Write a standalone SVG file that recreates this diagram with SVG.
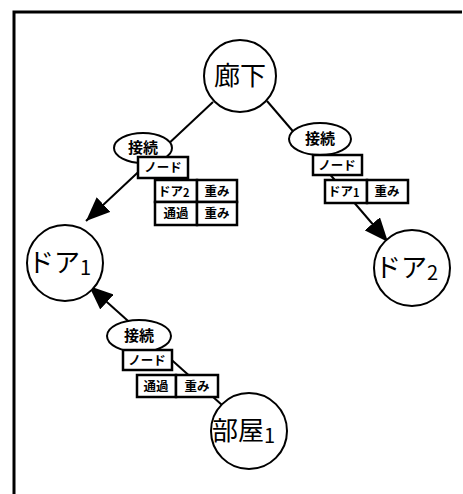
<svg xmlns="http://www.w3.org/2000/svg" width="463" height="494" viewBox="0 0 463 494">
<style>
.n{fill:#fff;stroke:#000;stroke-width:2}
.t{font-family:"Noto Sans CJK JP",sans-serif;fill:#000}
.big{font-size:26px}
.sub{font-size:20px}
.e{font-size:15px;font-weight:bold}
.b{fill:#fff;stroke:#000;stroke-width:2.5}
.c{font-size:12.5px;font-weight:bold}
.ln{stroke:#000;stroke-width:2;fill:none}
</style>
<defs>
<marker id="a" viewBox="0 0 24 20" refX="24" refY="10" markerWidth="24" markerHeight="20" markerUnits="userSpaceOnUse" orient="auto">
<path d="M0,0 L24,10 L0,20 z" fill="#000"/>
</marker>
</defs>
<g id="frame">
<path d="M14,494 L14,12 L462,12" stroke="#000" stroke-width="3" fill="none"/>
</g>
<g id="connectors">
<line class="ln" x1="213" y1="102" x2="86" y2="221" marker-end="url(#a)"/>
<line class="ln" x1="267" y1="101" x2="388" y2="242" marker-end="url(#a)"/>
<line class="ln" x1="222" y1="405" x2="89" y2="286" marker-end="url(#a)"/>
</g>
<g id="n-rouka">
<circle class="n" cx="240" cy="76" r="36"/>
<text class="t big" x="240" y="85" text-anchor="middle">廊下</text>
</g>
<g id="n-door1">
<circle class="n" cx="65" cy="263" r="38"/>
<text class="t big" x="28" y="272">ドア<tspan class="sub" dy="3">1</tspan></text>
</g>
<g id="n-door2">
<circle class="n" cx="412" cy="268" r="38"/>
<text class="t big" x="375" y="277">ドア<tspan class="sub" dy="3">2</tspan></text>
</g>
<g id="n-heya1">
<circle class="n" cx="249" cy="431" r="38"/>
<text class="t big" x="212" y="440">部屋<tspan class="sub" dy="3">1</tspan></text>
</g>
<g id="edge1">
<ellipse class="n" cx="143" cy="148" rx="29" ry="15"/>
<text class="t e" x="143" y="153" text-anchor="middle">接続</text>
<rect class="b" x="138" y="157" width="50" height="21"/>
<text class="t c" x="163" y="172" text-anchor="middle">ノード</text>
<rect class="b" x="155" y="180" width="42" height="22"/>
<rect class="b" x="197" y="180" width="40" height="22"/>
<rect class="b" x="155" y="202" width="42" height="23"/>
<rect class="b" x="197" y="202" width="40" height="23"/>
<text class="t c" x="158" y="196">ドア<tspan font-size="11" dy="1">2</tspan></text>
<text class="t c" x="217" y="196" text-anchor="middle">重み</text>
<text class="t c" x="176" y="218" text-anchor="middle">通過</text>
<text class="t c" x="217" y="218" text-anchor="middle">重み</text>
</g>
<g id="edge2">
<ellipse class="n" cx="320" cy="139" rx="31" ry="16"/>
<text class="t e" x="320" y="144" text-anchor="middle">接続</text>
<rect class="b" x="313" y="155" width="49" height="20"/>
<text class="t c" x="337" y="170" text-anchor="middle">ノード</text>
<rect class="b" x="325" y="180" width="42" height="23"/>
<rect class="b" x="367" y="180" width="41" height="23"/>
<text class="t c" x="328" y="196">ドア<tspan font-size="11" dy="1">1</tspan></text>
<text class="t c" x="387" y="196" text-anchor="middle">重み</text>
</g>
<g id="edge3">
<ellipse class="n" cx="139" cy="336" rx="32" ry="16"/>
<text class="t e" x="139" y="341" text-anchor="middle">接続</text>
<rect class="b" x="123" y="350" width="49" height="20"/>
<text class="t c" x="147" y="365" text-anchor="middle">ノード</text>
<rect class="b" x="137" y="375" width="39" height="22"/>
<rect class="b" x="176" y="375" width="42" height="22"/>
<text class="t c" x="156" y="391" text-anchor="middle">通過</text>
<text class="t c" x="197" y="391" text-anchor="middle">重み</text>
</g>
</svg>
